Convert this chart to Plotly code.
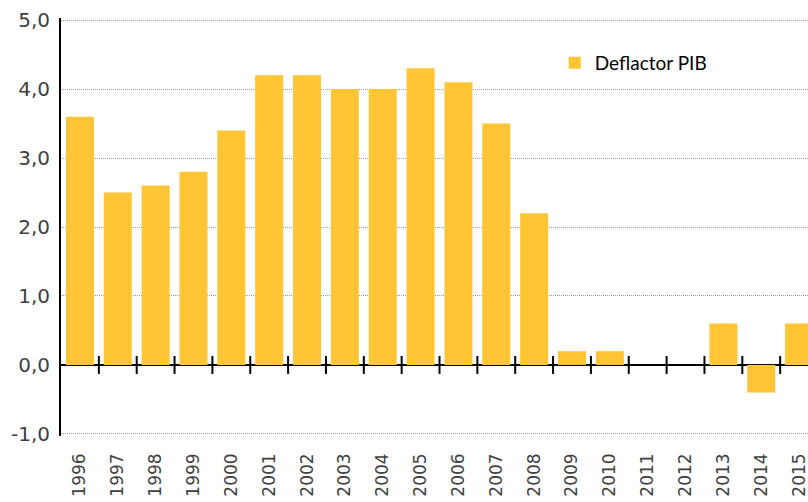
import plotly.graph_objects as go

years = ["1996", "1997", "1998", "1999", "2000", "2001", "2002", "2003", "2004", "2005",
         "2006", "2007", "2008", "2009", "2010", "2011", "2012", "2013", "2014", "2015"]
deflactor = [3.6, 2.5, 2.6, 2.8, 3.4, 4.2, 4.2, 4.0, 4.0, 4.3,
             4.1, 3.5, 2.2, 0.2, 0.2, 0.0, 0.0, 0.6, -0.4, 0.6]
y_ticks = [-1, 0, 1, 2, 3, 4, 5]
y_tick_labels = ["-1,0", "0,0", "1,0", "2,0", "3,0", "4,0", "5,0"]

fig = go.Figure()
fig.add_trace(go.Bar(
    x=list(range(len(years))), y=deflactor, name="Deflactor PIB",
    marker=dict(color="#FFC535", line=dict(width=0)),
))

# category-boundary tick marks on the zero line
shapes = []
for i in range(len(years) - 1):
    shapes.append(dict(type="line", xref="x", yref="y", x0=i + 0.5, x1=i + 0.5,
                       y0=-0.13, y1=0.13, line=dict(color="black", width=2)))

fig.update_layout(
    width=808, height=502,
    margin=dict(l=61, r=0, t=18, b=66),
    paper_bgcolor="white", plot_bgcolor="white",
    bargap=0.26,
    showlegend=True,
    legend=dict(x=0.661, y=0.8925, xanchor="left", yanchor="middle",
                font=dict(family="Lato", size=19, color="black"),
                bgcolor="rgba(0,0,0,0)"),
    shapes=shapes,
    xaxis=dict(
        range=[-0.5, 19.5 - 10 / 37.8],
        tickmode="array", tickvals=list(range(len(years))), ticktext=years,
        tickangle=-90, showgrid=False, showline=False, zeroline=False,
        ticks="", ticklabelstandoff=13, ticklabeloverflow="allow",
        tickfont=dict(family="DejaVu Sans", size=17, color="#404040"),
    ),
    yaxis=dict(
        range=[-1.03, 5.03], tickmode="array", tickvals=y_ticks, ticktext=y_tick_labels,
        showgrid=True, gridcolor="#9A9A9A", griddash="1px,1px", gridwidth=1,
        zeroline=True, zerolinecolor="black", zerolinewidth=2,
        showline=True, linecolor="black", linewidth=2,
        ticks="", ticklabelstandoff=5, ticklabeloverflow="allow",
        tickfont=dict(family="DejaVu Sans", size=20, color="#404040"),
    ),
)

fig.write_html(
    "out.html",
    config={"displayModeBar": False},
    post_script="document.body.style.margin='0';document.body.style.overflow='hidden';",
)
